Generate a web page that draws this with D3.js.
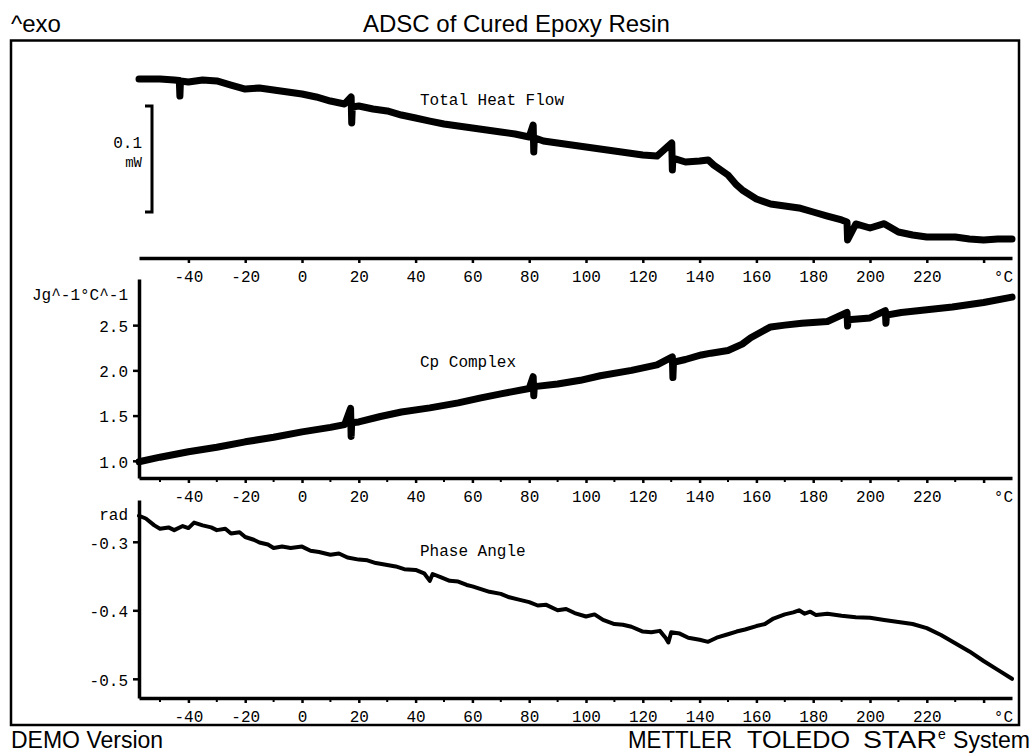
<!DOCTYPE html>
<html>
<head>
<meta charset="utf-8">
<script src="https://cdn.jsdelivr.net/npm/d3@7"></script>
<style>
  body { margin: 0; background: #fff; }
  text { fill: #000; }
</style>
</head>
<body>
<div id="chart"></div>
<script>
// Chart size
const width = 1031;
const height = 754;

// Temperature ticks (shared by all three panels)
const xTicks = [-40, -20, 0, 20, 40, 60, 80, 100, 120, 140, 160, 180, 200, 220, 240];
const xTickLabels = ["-40", "-20", "0", "20", "40", "60", "80", "100", "120", "140", "160", "180", "200", "220", ""];
const xMinorTicks = [-50, -30, -10, 10, 30, 50, 70, 90, 110, 130, 150, 170, 190, 210, 230];

// Total heat flow (mW, relative)
const heatTemps = [-57.4, -50, -45, -43.2, -43, -42.8, -40, -35, -30, -25, -20, -15, -10, -5, 0, 5, 10, 15,
  17.3, 17.5, 17.7, 20, 25, 30, 35, 40, 45, 50, 55, 60, 65, 70, 75, 80, 81.4, 81.6, 81.8, 85, 90, 95, 100,
  105, 110, 115, 120, 125, 130.2, 130.4, 130.6, 135, 140, 143, 145, 150, 153, 155, 160, 165, 170, 175,
  180, 185, 190, 191.9, 192.1, 195, 200, 205, 210, 215, 220, 225, 230, 235, 240, 245, 250];
const heatValues = [0.1255, 0.1255, 0.1245, 0.1240, 0.1094, 0.1236, 0.1226, 0.1245, 0.1236, 0.1198, 0.1160,
  0.1170, 0.1151, 0.1132, 0.1113, 0.1085, 0.1047, 0.1019, 0.1085, 0.0840, 0.0990, 0.1000, 0.0972,
  0.0953, 0.0915, 0.0887, 0.0858, 0.0830, 0.0811, 0.0792, 0.0774, 0.0755, 0.0736, 0.0708, 0.0821,
  0.0566, 0.0700, 0.0670, 0.0651, 0.0632, 0.0613, 0.0594, 0.0575, 0.0557, 0.0538, 0.0528, 0.0651,
  0.0396, 0.0509, 0.0472, 0.0481, 0.0491, 0.0443, 0.0349, 0.0255, 0.0208, 0.0123, 0.0075, 0.0057,
  0.0038, 0.0000, -0.0038, -0.0075, -0.0094, -0.0264, -0.0113, -0.0151, -0.0110, -0.0189, -0.0217,
  -0.0236, -0.0236, -0.0236, -0.0255, -0.0264, -0.0255, -0.0255];

// Cp complex (J/g/°C)
const cpTemps = [-57.4, -50, -40, -30, -20, -10, 0, 10, 15, 17.1, 17.3, 17.5, 20, 27.6, 35, 45, 55, 63, 70,
  80, 81.4, 81.6, 81.8, 90, 98, 105, 116, 125, 130.4, 130.6, 130.8, 135, 140.6, 144, 150, 155, 158, 162,
  165, 170, 176, 185, 191.9, 192.1, 192.3, 200, 205.4, 205.6, 205.8, 211, 220, 229, 240, 250];
const cpValues = [0.99, 1.04, 1.10, 1.15, 1.21, 1.26, 1.32, 1.37, 1.40, 1.58, 1.27, 1.42, 1.43, 1.49, 1.54,
  1.585, 1.64, 1.695, 1.74, 1.80, 1.93, 1.72, 1.82, 1.85, 1.89, 1.94, 2.00, 2.06, 2.15, 1.92, 2.09,
  2.12, 2.17, 2.19, 2.22, 2.29, 2.36, 2.43, 2.48, 2.50, 2.52, 2.54, 2.64, 2.49, 2.56, 2.58, 2.66, 2.52,
  2.61, 2.64, 2.67, 2.70, 2.75, 2.81];
const cpTicks = [1.0, 1.5, 2.0, 2.5];

// Phase angle (rad)
const phaseTemps = [-57.4, -55, -52, -50, -47, -45, -42, -40, -38, -35, -32, -30, -27, -25, -22, -20, -17,
  -15, -12, -10, -7, -4, 0, 3, 6, 10, 13, 16, 20, 23, 26, 30, 33, 36, 40, 43, 45, 46, 49, 52, 55, 58,
  60, 63, 66, 70, 73, 76, 80, 83, 86, 90, 93, 96, 100, 103, 106, 110, 113, 116, 120, 123, 126, 128,
  129, 130, 133, 136, 140, 143, 146, 150, 153, 156, 160, 163, 166, 170, 173, 175, 177, 179, 181, 185,
  190, 195, 200, 205, 210, 215, 220, 225, 230, 235, 240, 245, 250];
const phaseValues = [-0.262, -0.266, -0.276, -0.281, -0.279, -0.283, -0.277, -0.280, -0.272, -0.276,
  -0.279, -0.283, -0.281, -0.288, -0.286, -0.293, -0.297, -0.301, -0.304, -0.309, -0.307, -0.309,
  -0.307, -0.313, -0.315, -0.319, -0.317, -0.323, -0.326, -0.327, -0.331, -0.334, -0.336, -0.340,
  -0.341, -0.346, -0.357, -0.347, -0.352, -0.357, -0.358, -0.363, -0.365, -0.369, -0.373, -0.376,
  -0.381, -0.384, -0.388, -0.393, -0.392, -0.400, -0.398, -0.404, -0.409, -0.406, -0.414, -0.420,
  -0.421, -0.424, -0.431, -0.432, -0.430, -0.440, -0.447, -0.432, -0.434, -0.440, -0.443, -0.446,
  -0.440, -0.435, -0.431, -0.428, -0.423, -0.420, -0.412, -0.406, -0.403, -0.400, -0.405, -0.402,
  -0.407, -0.405, -0.408, -0.410, -0.411, -0.414, -0.417, -0.420, -0.426, -0.436, -0.448, -0.460,
  -0.474, -0.487, -0.500];
const phaseTicks = [-0.3, -0.4, -0.5];

const mono = "'Liberation Mono', 'Courier New', monospace";
const sans = "'Liberation Sans', Arial, Helvetica, sans-serif";

const svg = d3.select("#chart")
    .append("svg")
    .attr("width", width)
    .attr("height", height);

// Scales
const x = d3.scaleLinear().domain([-57.4, 250]).range([139, 1012]);
const yHeat = d3.scaleLinear().domain([0, 0.1]).range([212, 106]);
const yCp = d3.scaleLinear().domain([0.81, 3.01]).range([478, 279]);
const yPhase = d3.scaleLinear().domain([-0.528, -0.239]).range([698, 500]);

// Outer frame
svg.append("rect")
    .attr("x", 11).attr("y", 40.5)
    .attr("width", 1008).attr("height", 684.5)
    .attr("fill", "none")
    .attr("stroke", "#000")
    .attr("stroke-width", 2.5);

// Temperature axis under each panel
function drawXAxis(yPos, withMinor) {
    const g = svg.append("g")
        .attr("transform", `translate(0,${yPos})`)
        .call(d3.axisBottom(x)
            .tickValues(xTicks)
            .tickSize(5)
            .tickSizeOuter(0)
            .tickFormat((d, i) => xTickLabels[i]))
        .attr("font-family", mono)
        .attr("font-size", 16);
    g.select(".domain").attr("stroke-width", 3.5);
    g.selectAll(".tick line").attr("stroke-width", 2.5);
    g.selectAll(".tick text").attr("y", 24).attr("dy", 0).attr("fill", "#000");

    if (withMinor) {
        g.selectAll(".minor")
            .data(xMinorTicks)
            .join("line")
            .attr("class", "minor")
            .attr("x1", d => x(d)).attr("x2", d => x(d))
            .attr("y1", 0).attr("y2", 4)
            .attr("stroke", "#000")
            .attr("stroke-width", 2);
    }

    g.append("text")
        .attr("x", 1013).attr("y", 24)
        .attr("text-anchor", "end")
        .text("°C");
}

// Value axis on the left side (plain hyphen for negative numbers)
function drawYAxis(scale, ticks, unit, unitY) {
    const g = svg.append("g")
        .attr("transform", "translate(139,0)")
        .call(d3.axisLeft(scale)
            .tickValues(ticks)
            .tickSize(6)
            .tickSizeOuter(0)
            .tickPadding(5)
            .tickFormat(d => d.toFixed(1)))
        .attr("font-family", mono)
        .attr("font-size", 16);
    g.select(".domain").attr("stroke-width", 3.5);
    g.selectAll(".tick line").attr("stroke-width", 2.5);
    g.selectAll(".tick text").attr("dy", "0.4em").attr("fill", "#000");
    g.append("text")
        .attr("x", -11).attr("y", unitY)
        .attr("text-anchor", "end")
        .text(unit);
}

function drawCurve(temps, values, scale, strokeWidth) {
    const line = d3.line()
        .x(d => x(d[0]))
        .y(d => scale(d[1]));
    svg.append("path")
        .datum(d3.zip(temps, values))
        .attr("fill", "none")
        .attr("stroke", "#000")
        .attr("stroke-width", strokeWidth)
        .attr("stroke-linejoin", "round")
        .attr("stroke-linecap", "round")
        .attr("d", line);
}

function label(txt, xPos, yPos) {
    svg.append("text")
        .attr("x", xPos).attr("y", yPos)
        .attr("font-family", mono)
        .attr("font-size", 16)
        .text(txt);
}

// Panel 1: Total Heat Flow with a 0.1 mW scale bar
drawXAxis(258, false);
svg.append("path")
    .attr("d", `M145,${yHeat(0.1)}H152V${yHeat(0)}H145`)
    .attr("fill", "none")
    .attr("stroke", "#000")
    .attr("stroke-width", 3);
svg.append("text")
    .attr("x", 142).attr("y", 148)
    .attr("text-anchor", "end")
    .attr("font-family", mono).attr("font-size", 16)
    .text("0.1");
svg.append("text")
    .attr("x", 142).attr("y", 167)
    .attr("text-anchor", "end")
    .attr("font-family", mono).attr("font-size", 14)
    .text("mW");
drawCurve(heatTemps, heatValues, yHeat, 7);
label("Total Heat Flow", 420, 105);

// Panel 2: Cp Complex
drawXAxis(478, true);
drawYAxis(yCp, cpTicks, "Jg^-1°C^-1", 300);
drawCurve(cpTemps, cpValues, yCp, 7);
label("Cp Complex", 420, 367);

// Panel 3: Phase Angle
drawXAxis(698, true);
drawYAxis(yPhase, phaseTicks, "rad", 520);
drawCurve(phaseTemps, phaseValues, yPhase, 4);
label("Phase Angle", 420, 556);

// Titles and footer
svg.append("text")
    .attr("x", 11).attr("y", 32)
    .attr("font-family", sans).attr("font-size", 24)
    .text("^exo");
svg.append("text")
    .attr("x", 363).attr("y", 32)
    .attr("font-family", sans).attr("font-size", 24)
    .text("ADSC of Cured Epoxy Resin");
svg.append("text")
    .attr("x", 11).attr("y", 748)
    .attr("font-family", sans).attr("font-size", 23)
    .text("DEMO Version");

// Footer pieces, each stretched to the width seen in the reference
const footerWords = ["METTLER", "TOLEDO", "STAR", "System"];
const footerX = [628, 747, 863, 953];
const footerLen = [104, 103, 74, 77];
svg.append("g")
    .attr("font-family", sans).attr("font-size", 23)
    .selectAll("text")
    .data(footerWords)
    .join("text")
    .attr("x", (d, i) => footerX[i])
    .attr("y", 748)
    .attr("textLength", (d, i) => footerLen[i])
    .attr("lengthAdjust", "spacingAndGlyphs")
    .text(d => d);
svg.append("text")
    .attr("x", 938).attr("y", 739)
    .attr("font-family", sans).attr("font-size", 14)
    .text("e");
</script>
</body>
</html>
